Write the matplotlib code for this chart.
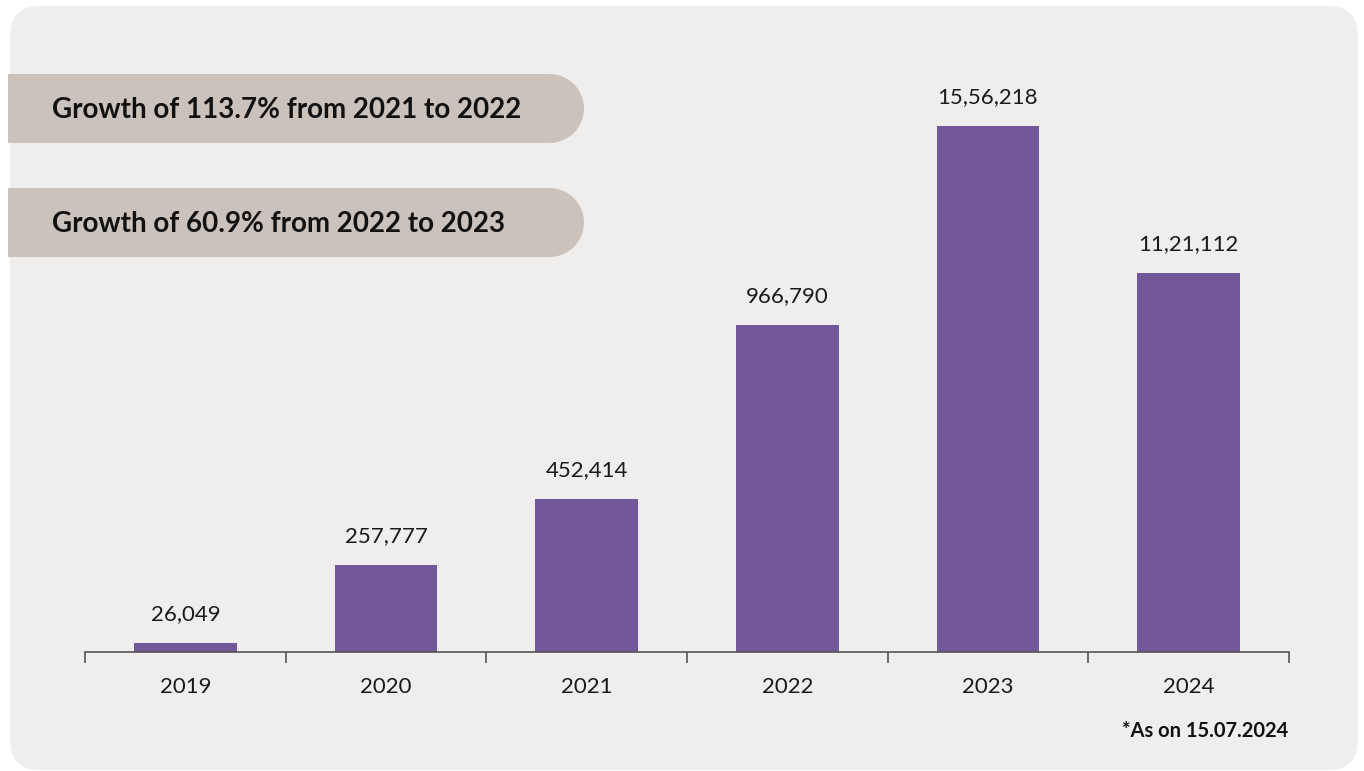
import numpy as np
import matplotlib.pyplot as plt
from matplotlib.patches import FancyBboxPatch, Rectangle, Wedge

plt.rcParams['font.family'] = ['Lato', 'DejaVu Sans']

years = ['2019', '2020', '2021', '2022', '2023', '2024']
values = [26049, 257777, 452414, 966790, 1556218, 1121112]
value_labels = ['26,049', '257,777', '452,414', '966,790', '15,56,218', '11,21,112']
banners = ['Growth of 113.7% from 2021 to 2022',
           'Growth of 60.9% from 2022 to 2023']
footnote = '*As on 15.07.2024'

W, H = 1364, 771
bar_color = '#72589A'
bg_color = '#F0EEEC'
pill_color = '#CBC2BC'

fig = plt.figure(figsize=(W / 100, H / 100), dpi=100)
fig.patch.set_facecolor('white')

# Background layer in pixel coordinates
bg = fig.add_axes([0, 0, 1, 1], zorder=0)
bg.set_xlim(0, W)
bg.set_ylim(H, 0)
bg.axis('off')
bg.add_patch(FancyBboxPatch((10 + 30, 6 + 30), 1348 - 60, 764 - 60,
                            boxstyle='round,pad=30',
                            facecolor=bg_color, edgecolor='none'))

# Pills with rounded right end
pill_tops = [74, 188]
pill_h = 69
for top, text in zip(pill_tops, banners):
    r = pill_h / 2
    bg.add_patch(Rectangle((8, top), 584 - 8 - r, pill_h,
                           facecolor=pill_color, edgecolor='none'))
    bg.add_patch(Wedge((584 - r, top + r), r, -90, 90,
                       facecolor=pill_color, edgecolor='none'))
    bg.text(52, top + r + 1, text, fontsize=20, fontweight='bold',
            color='#111111', ha='left', va='center')

bg.text(1288, 731, footnote, fontsize=14.5, fontweight='bold',
        color='#111111', ha='right', va='center')

# Chart axes
left = 85 / W
right = 1289 / W
bottom = (H - 652) / H
top = (H - 60) / H
ax = fig.add_axes([left, bottom, right - left, top - bottom], zorder=1)
ax.patch.set_alpha(0)

x = np.arange(len(years))
ax.bar(x, values, width=0.51, color=bar_color, zorder=2)
ymax = 1556218 * 592 / 526
ax.set_xlim(-0.5, len(years) - 0.5)
ax.set_ylim(0, ymax)

for xi, v, lab in zip(x, values, value_labels):
    ax.annotate(lab, (xi, v), xytext=(0, 29), textcoords='offset pixels',
                ha='center', va='center', fontsize=16, color='#1a1a1a')

for s in ['top', 'right', 'left']:
    ax.spines[s].set_visible(False)
ax.spines['bottom'].set_color('#555555')
ax.spines['bottom'].set_linewidth(1.2)
ax.set_yticks([])
ax.set_xticks(np.arange(len(years) + 1) - 0.5, minor=True)
ax.set_xticks(x)
ax.set_xticklabels(years, fontsize=16, color='#1a1a1a')
ax.tick_params(axis='x', which='major', length=0, pad=18)
ax.tick_params(axis='x', which='minor', length=8, width=1.2, color='#555555')

fig.savefig('out.png', dpi=100, facecolor='white')
